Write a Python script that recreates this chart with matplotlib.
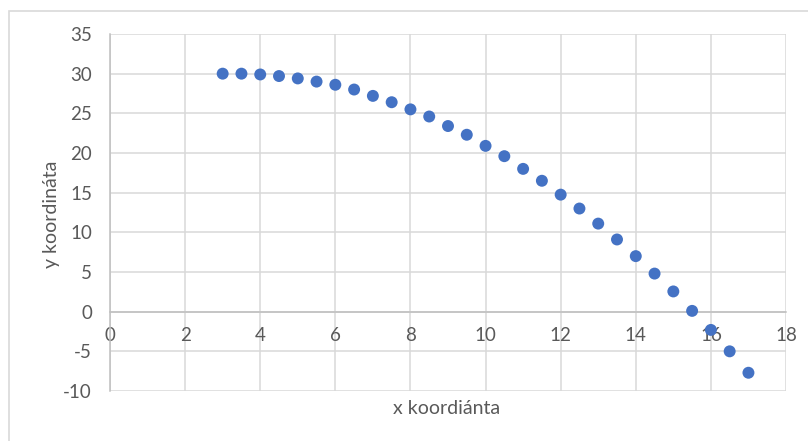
import matplotlib
matplotlib.use("Agg")
import matplotlib.pyplot as plt
from matplotlib.patches import Rectangle

# Trajectory samples
x_vals = [3, 3.5, 4, 4.5, 5, 5.5, 6, 6.5, 7, 7.5, 8, 8.5, 9, 9.5, 10,
          10.5, 11, 11.5, 12, 12.5, 13, 13.5, 14, 14.5, 15, 15.5, 16,
          16.5, 17]
y_vals = [30.0, 30.0, 29.9, 29.7, 29.4, 29.0, 28.6, 28.0, 27.2, 26.4,
          25.5, 24.6, 23.4, 22.3, 20.9, 19.6, 18.0, 16.5, 14.75, 13.0,
          11.1, 9.1, 7.0, 4.8, 2.55, 0.1, -2.3, -5.0, -7.7]

x_ticks = [0, 2, 4, 6, 8, 10, 12, 14, 16, 18]
y_ticks = [-10, -5, 0, 5, 10, 15, 20, 25, 30, 35]
x_title = "x koordiánta"
y_title = "y koordináta"

plt.rcParams['font.family'] = ['Lato', 'DejaVu Sans']
plt.rcParams['axes.unicode_minus'] = False
text_color = "#595959"

W, H = 808, 441
fig = plt.figure(figsize=(W / 100, H / 100), dpi=100)
fig.patch.set_facecolor("white")

# chart-area frame
fig.patches.append(Rectangle((9 / W, -0.05), 1.0, 1 - 10.5 / H + 0.05,
                             transform=fig.transFigure, fill=False,
                             edgecolor="#d9d9d9", linewidth=1.2))

ax = fig.add_axes([110 / W, 1 - 391 / H, (786 - 110) / W, (391 - 34) / H])
ax.set_xlim(0, 18)
ax.set_ylim(-10, 35)
ax.set_xticks(x_ticks)
ax.set_yticks(y_ticks)
ax.grid(True, color="#d9d9d9", linewidth=1.1)
ax.set_axisbelow(True)

for side in ("top", "right"):
    ax.spines[side].set_visible(False)
ax.spines["bottom"].set_position(("data", 0))
ax.spines["left"].set_position(("data", 0))
for side in ("bottom", "left"):
    ax.spines[side].set_color("#bfbfbf")
    ax.spines[side].set_linewidth(1.1)

ax.tick_params(axis="both", length=0, labelsize=13.5, labelcolor=text_color)
ax.tick_params(axis="x", pad=11)
ax.tick_params(axis="y", pad=13)

ax.scatter(x_vals, y_vals, s=8.6 ** 2, color="#4472c4", edgecolors="none",
           zorder=3, clip_on=False)

fig.text(447 / W, 1 - 409 / H, x_title, ha="center", va="center",
         fontsize=14, color=text_color)
fig.text(51 / W, 1 - 214 / H, y_title, ha="center", va="center",
         rotation=90, fontsize=14, color=text_color)

fig.savefig("out.png", dpi=100, facecolor="white")
